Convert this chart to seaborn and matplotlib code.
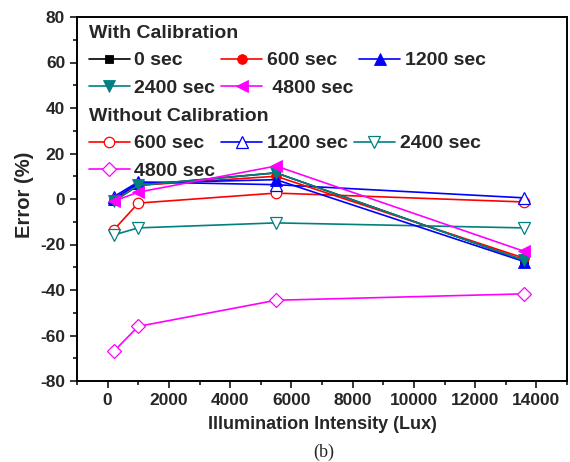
import matplotlib
matplotlib.use("Agg")
import matplotlib.pyplot as plt
import seaborn as sns
import pandas as pd
from matplotlib.ticker import MultipleLocator

# ---- data ----
lux = [200, 1000, 5500, 13600]

with_0 = [-1, 6, 11.5, -27]
with_600 = [0, 6, 10, -26]
with_1200 = [0, 7, 8.5, -27.5]
with_2400 = [-1, 6, 11.5, -27]
with_4800 = [-1, 3, 14.5, -23]

without_600 = [-13.6, -1.8, 2.6, -1.3]
without_1200 = [1, 7.5, 6.3, 0.5]
without_2400 = [-15.8, -12.7, -10.5, -12.7]
without_4800 = [-67, -56, -44.5, -41.7]

with_labels = ["0 sec", "600 sec", "1200 sec", "2400 sec", " 4800 sec"]
without_labels = ["600 sec", "1200 sec", "2400 sec", "4800 sec"]

x_ticks = [0, 2000, 4000, 6000, 8000, 10000, 12000, 14000]
y_ticks = [-80, -60, -40, -20, 0, 20, 40, 60, 80]

sns.set_style("ticks")
plt.rcParams['font.family'] = ['Liberation Sans', 'DejaVu Sans']
plt.rcParams['font.weight'] = 'bold'
plt.rcParams['axes.unicode_minus'] = False

fig = plt.figure(figsize=(5.7, 4.62), dpi=100)
ax = fig.add_axes([77/570, (462-381)/462, (567-77)/570, (381-17)/462])

RED, BLUE, TEAL, MAG = "#FF0000", "#0000FF", "#008080", "#FF00FF"

def draw(vals, color, marker, open_, ms):
    df = pd.DataFrame({"x": lux, "y": vals})
    sns.lineplot(data=df, x="x", y="y", ax=ax, color=color, marker=marker,
                 markersize=ms, linewidth=1.2,
                 markerfacecolor="white" if open_ else color,
                 markeredgecolor=color, markeredgewidth=0.9 if open_ else 0.6,
                 legend=False)
    return ax.lines[-1]

# without calibration (open)
n600 = draw(without_600, RED, "o", True, 7.5)
n1200 = draw(without_1200, BLUE, "^", True, 9)
n2400 = draw(without_2400, TEAL, "v", True, 9)
n4800 = draw(without_4800, MAG, "D", True, 7.5)
# with calibration (filled)
w0 = draw(with_0, "black", "s", False, 6)
w600 = draw(with_600, RED, "o", False, 7)
w1200 = draw(with_1200, BLUE, "^", False, 8)
w2400 = draw(with_2400, TEAL, "v", False, 8)
w4800 = draw(with_4800, MAG, "<", False, 8)

ax.set_xlim(-1000, 15000)
ax.set_ylim(-80, 80)
ax.set_xticks(x_ticks)
ax.set_yticks(y_ticks)
ax.xaxis.set_minor_locator(MultipleLocator(1000))
ax.yaxis.set_minor_locator(MultipleLocator(10))
ax.tick_params(which="major", direction="out", length=5, width=1.3, labelsize=12.5)
ax.tick_params(which="minor", direction="out", length=3, width=1.3)
for lab in ax.get_xticklabels() + ax.get_yticklabels():
    lab.set_fontweight("bold")
for sp in ax.spines.values():
    sp.set_visible(True)
    sp.set_linewidth(1.4)
    sp.set_color("black")

ax.set_xlabel("Illumination Intensity (Lux)", fontsize=13, fontweight="bold", labelpad=6)
ax.set_ylabel("Error (%)", fontsize=14.5, fontweight="bold", labelpad=3)
ax.yaxis.set_label_coords(-0.088, 0.512)

leg_kw = dict(ncol=3, frameon=False, fontsize=14, handlelength=2.1,
              handletextpad=0.25, columnspacing=0.3, labelspacing=0.5,
              borderaxespad=0.2, alignment="left",
              title_fontproperties={"weight": "bold", "size": 14})

h1 = [w0, w2400, w600, w4800, w1200]
l1 = [with_labels[0], with_labels[3], with_labels[1], with_labels[4], with_labels[2]]
leg1 = ax.legend(h1, l1, title="With Calibration", loc="upper left",
                 bbox_to_anchor=(0.0, 1.01), **leg_kw)
for t in leg1.get_texts():
    t.set_fontweight("bold")
ax.add_artist(leg1)

h2 = [n600, n4800, n1200, n2400]
l2 = [without_labels[0], without_labels[3], without_labels[1], without_labels[2]]
leg2 = ax.legend(h2, l2, title="Without Calibration", loc="upper left",
                 bbox_to_anchor=(0.0, 0.782), **leg_kw)
for t in leg2.get_texts():
    t.set_fontweight("bold")

fig.text(324/570, 1 - 452/462, "(b)", ha="center", va="center",
         fontsize=13, family=["Liberation Serif"], fontweight="normal")

fig.savefig("out.png", dpi=100)
